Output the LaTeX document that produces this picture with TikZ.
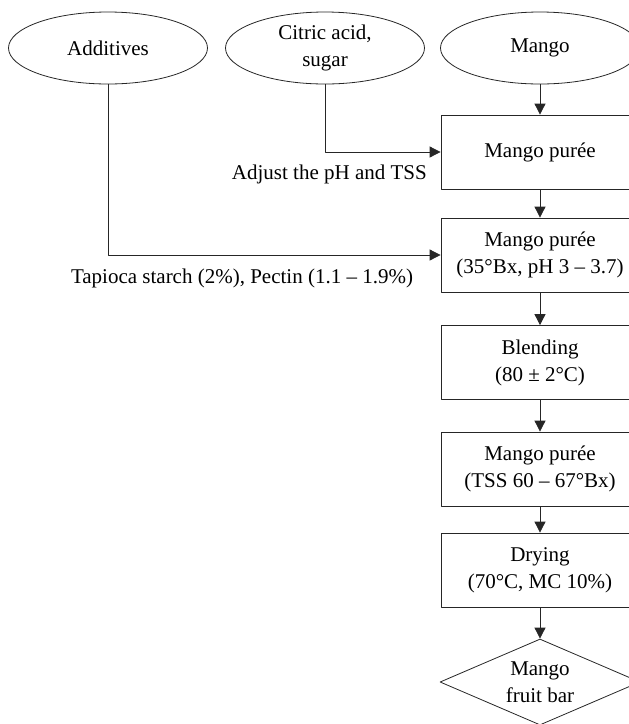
\documentclass[tikz,border=0pt]{standalone}
\usepackage{fontspec}
\setmainfont{Liberation Serif}
\usetikzlibrary{shapes.geometric,arrows.meta}
\tikzset{
  src/.style={draw=black!85,line width=0.8pt,ellipse,minimum width=199pt,minimum height=72pt,inner sep=0pt,align=center},
  proc/.style={draw=black!85,line width=0.8pt,rectangle,minimum width=198pt,minimum height=74pt,inner sep=0pt,align=center},
  prod/.style={draw=black!85,line width=0.8pt,diamond,shape aspect=2.3,minimum width=200pt,minimum height=86pt,inner sep=0pt,align=center},
  lab/.style={inner sep=0pt},
  flow/.style={draw=black!85,line width=0.8pt,->}
}
\begin{document}
\begin{tikzpicture}[x=1pt,y=-1pt,font=\fontsize{21}{27}\selectfont,line join=round,>={Triangle[length=11pt,width=11pt]}]
\useasboundingbox (0,0) rectangle (629,724);
\clip (0,0) rectangle (629,724);
% sources
\node[src] (add) at (108,48) {Additives};
\node[src] (cit) at (325,48) {Citric acid,\\sugar};
\node[src] (mango) at (540,48) {Mango};
% process steps
\node[proc] (p1) at (540,152) {Mango purée};
\node[proc] (p2) at (540,255) {Mango purée\\(35°Bx, pH 3 – 3.7)};
\node[proc] (blend) at (540,362.5) {Blending\\(80 ± 2°C)};
\node[proc] (p3) at (540,469) {Mango purée\\(TSS 60 – 67°Bx)};
\node[proc] (dry) at (540,570) {Drying\\(70°C, MC 10\%)};
\node[prod] (bar) at (540,682) {Mango\\fruit bar};
% labels
\node[lab,anchor=east] (adjlab) at (427,174) {Adjust the pH and TSS};
\node[lab] (addlab) at (242,278) {Tapioca starch (2\%), Pectin (1.1 – 1.9\%)};
% arrows
\draw[flow] (mango) -- (p1);
\draw[flow] (p1) -- (p2);
\draw[flow] (p2) -- (blend);
\draw[flow] (blend) -- (p3);
\draw[flow] (p3) -- (dry);
\draw[flow] (dry) -- (bar);
\draw[flow] (cit) |- (p1);
\draw[flow] (add) |- (p2);
\end{tikzpicture}
\end{document}
